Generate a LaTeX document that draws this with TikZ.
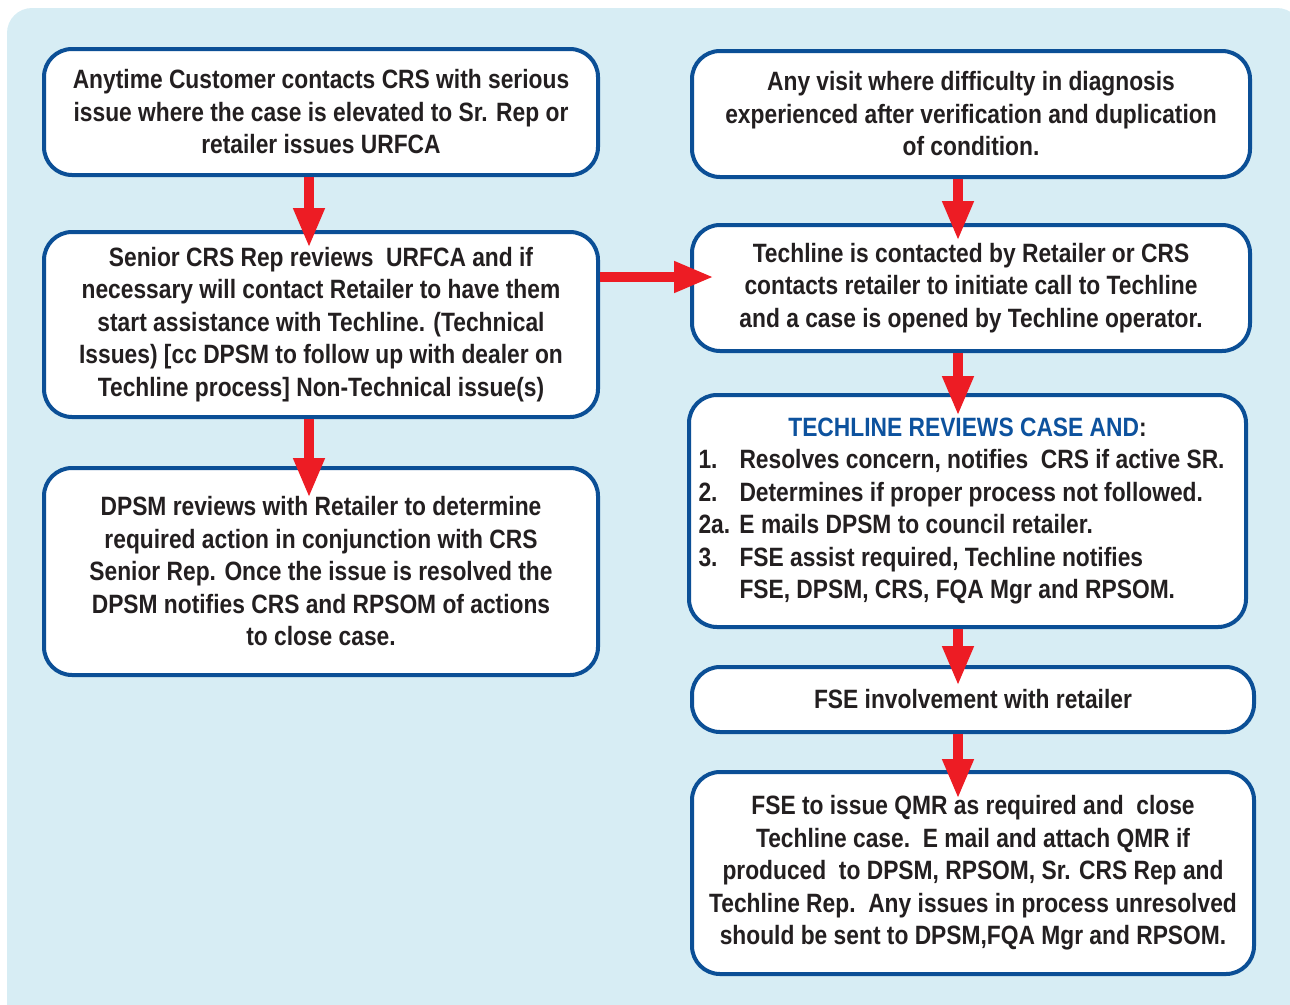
\documentclass[tikz,border=0pt]{standalone}
\usepackage{fontspec}
\setmainfont[FakeStretch=0.86]{Liberation Sans}
\usetikzlibrary{arrows.meta}
\definecolor{bgblue}{HTML}{D7EDF4}
\definecolor{bordblue}{HTML}{0B4F96}
\definecolor{headblue}{HTML}{0D529E}
\definecolor{arrred}{HTML}{ED1C24}
\definecolor{txt}{HTML}{231F20}
\tikzset{
  box/.style={draw=bordblue, line width=4pt, fill=white, rounded corners=28pt,
    inner sep=0pt, align=center, text=txt,
    font=\fontsize{26.5}{32.5}\selectfont\bfseries},
  redarrow/.style={draw=arrred, line width=10pt,
    -{Triangle[width=29pt,length=40pt]}, arrred}
}
\begin{document}
\begin{tikzpicture}[x=1pt,y=-1pt]
\useasboundingbox (0,0) rectangle (1290,1004);
\clip (0,0) rectangle (1290,1004);
\fill[bgblue, rounded corners=25pt] (7,8) rectangle (1302,1040);

\node[box, minimum width=554, minimum height=126] (a) at (321,112)
  {Anytime Customer contacts CRS with serious\\issue where the case is elevated to Sr. Rep or\\retailer issues URFCA};
\node[box, minimum width=554, minimum height=185] (b) at (321,324.5)
  {Senior CRS Rep reviews\ \ URFCA and if\\necessary will contact Retailer to have them\\start assistance with Techline. (Technical\\Issues) [cc DPSM to follow up with dealer on\\Techline process] Non-Technical issue(s)};
\node[box, minimum width=554, minimum height=207] (c) at (321,571.5)
  {DPSM reviews with Retailer to determine\\required action in conjunction with CRS\\Senior Rep. Once the issue is resolved the\\DPSM notifies CRS and RPSOM of actions\\to close case.};
\node[box, minimum width=558, minimum height=126] (d) at (971,114)
  {Any visit where difficulty in diagnosis\\experienced after verification and duplication\\of condition.};
\node[box, minimum width=558, minimum height=126] (e) at (971,288)
  {Techline is contacted by Retailer or CRS\\contacts retailer to initiate call to Techline\\and a case is opened by Techline operator.};
\node[box, minimum width=557, minimum height=232] (f) at (967.5,511)
  {\begin{minipage}{538pt}\raggedright
   \makebox[538pt][c]{\textcolor{headblue}{TECHLINE REVIEWS CASE AND}:}\\
   \makebox[41pt][l]{1.}Resolves concern, notifies\ \ CRS if active SR.\\
   \makebox[41pt][l]{2.}Determines if proper process not followed.\\
   \makebox[41pt][l]{2a.}E mails DPSM to council retailer.\\
   \makebox[41pt][l]{3.}FSE assist required, Techline notifies\\
   \makebox[41pt][l]{}FSE, DPSM, CRS, FQA Mgr and RPSOM.
   \end{minipage}};
\node[box, minimum width=562, minimum height=65] (g) at (973,699.5)
  {FSE involvement with retailer};
\node[box, minimum width=562, minimum height=202] (h) at (973,873)
  {FSE to issue QMR as required and\ \ close\\Techline case.\ \ E mail and attach QMR if\\produced\ \ to DPSM, RPSOM, Sr. CRS Rep and\\Techline Rep.\ \ Any issues in process unresolved\\should be sent to DPSM,FQA Mgr and RPSOM.};

\coordinate (colL) at (309,0);
\coordinate (colR) at (958,0);
\coordinate (rowBE) at (0,277);

\draw[redarrow, shorten >=-18pt] (colL |- a.south) -- (colL |- b.north);
\draw[redarrow, shorten >=-32pt] (colL |- b.south) -- (colL |- c.north);
\draw[redarrow, shorten >=-24pt] (b.east |- rowBE) -- (e.west |- rowBE);
\draw[redarrow, shorten >=-18pt] (colR |- d.south) -- (colR |- e.north);
\draw[redarrow, shorten >=-23pt] (colR |- e.south) -- (colR |- f.north);
\draw[redarrow, shorten >=-21pt] (colR |- f.south) -- (colR |- g.north);
\draw[redarrow, shorten >=-29pt] (colR |- g.south) -- (colR |- h.north);
\end{tikzpicture}
\end{document}
